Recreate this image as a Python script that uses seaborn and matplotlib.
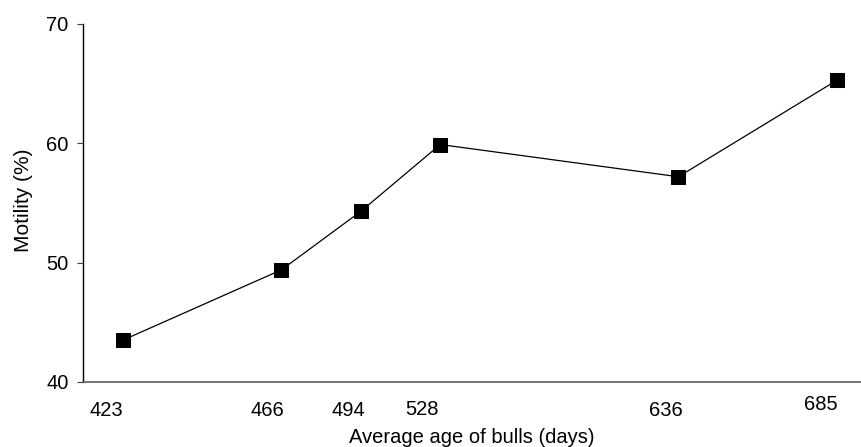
import matplotlib
matplotlib.use("Agg")
import matplotlib.pyplot as plt
import matplotlib.transforms as mtransforms
import seaborn as sns
import pandas as pd

# Sampling occasion (months on test) and the average bull age at each sampling
collection_month = [1, 3, 4, 5, 8, 10]
age_days = ["423", "466", "494", "528", "636", "685"]
motility_pct = [43.5, 49.4, 54.3, 59.9, 57.2, 65.3]

df = pd.DataFrame({"month": collection_month, "motility": motility_pct})

sns.set_theme(style="white")
plt.rcParams["font.family"] = ["Liberation Sans", "DejaVu Sans"]

fig = plt.figure(figsize=(8.62, 4.47), dpi=100)
ax = fig.add_axes([83 / 862, 1 - 382 / 447, 778 / 862, 358 / 447])

sns.lineplot(data=df, x="month", y="motility", ax=ax, color="black",
             linewidth=0.9, marker="s", markersize=10.5,
             markeredgecolor="black", markerfacecolor="black")

ax.set_xlim(0.5, 10.3)
ax.set_ylim(40, 70)
ax.set_yticks([40, 50, 60, 70])

for side in ("top", "right"):
    ax.spines[side].set_visible(False)
ax.spines["left"].set_color("black")
ax.spines["bottom"].set_color("#606060")
ax.spines["left"].set_linewidth(1.0)
ax.spines["bottom"].set_linewidth(1.2)

ax.tick_params(axis="y", which="major", direction="out", length=4.5,
               width=0.8, color="#404040", left=True, pad=6,
               labelsize=14.5, labelcolor="black")
ax.set_xticks(collection_month)
ax.set_xticklabels(age_days)
ax.tick_params(axis="x", which="major", length=0, bottom=True, pad=14,
               labelsize=14.5, labelcolor="black")

# Age labels sit slightly left of their points; the later ones a little higher
shifts = [(-12, 0), (-10, 0), (-9, 0), (-13, 1.0), (-9, 0), (-12, 4.5)]
for lab, (dx, dy) in zip(ax.get_xticklabels(), shifts):
    off = mtransforms.ScaledTranslation(dx / 72, dy / 72, fig.dpi_scale_trans)
    lab.set_transform(lab.get_transform() + off)

ax.set_xlabel("Average age of bulls (days)", fontsize=14.5, color="black")
ax.set_ylabel("Motility (%)", fontsize=15, color="black")
ax.xaxis.set_label_coords(0.5, -0.128)
ax.yaxis.set_label_coords(-0.064, 0.508)

ax.grid(False)
fig.savefig("out.png", dpi=100, facecolor="white")
